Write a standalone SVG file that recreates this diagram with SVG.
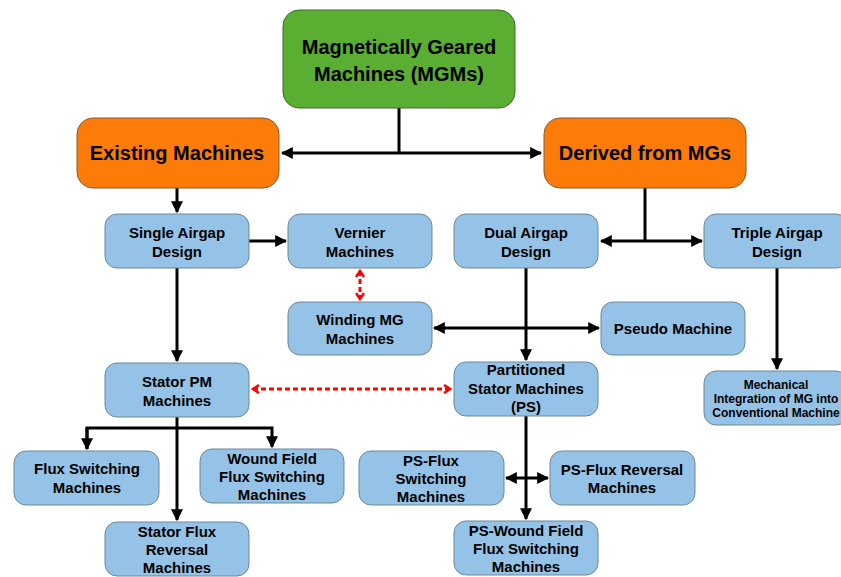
<svg xmlns="http://www.w3.org/2000/svg" width="841" height="577" viewBox="0 0 841 577">
<defs>
<style>
.b{fill:#95c3e7;stroke:#6f8796;stroke-width:1}
.o{fill:#fc7b09;stroke:#8a5a2a;stroke-width:1}
.g{fill:#5aae31;stroke:#3f6b2a;stroke-width:1}
text{font-family:"Liberation Sans",Arial,sans-serif;font-weight:bold;fill:#000;text-anchor:middle}
.t1{font-size:20px}
.t2{font-size:15px}
.t3{font-size:12px}
.c{fill:none;stroke:#000;stroke-width:3}
.r{fill:none;stroke:#ff0000;stroke-width:3;stroke-dasharray:5 3}
</style>
<marker id="a" viewBox="0 0 10 10" refX="9" refY="5" markerWidth="12" markerHeight="12" markerUnits="userSpaceOnUse" orient="auto-start-reverse">
<path d="M0 0 L10 5 L0 10 Z" fill="#000"/>
</marker>
<marker id="rv" viewBox="0 0 10 10" refX="8" refY="5" markerWidth="10" markerHeight="10" markerUnits="userSpaceOnUse" orient="auto-start-reverse">
<path d="M2 1 L8 5 L2 9" fill="none" stroke="#ff0000" stroke-width="2.5"/>
</marker>
</defs>
<rect width="841" height="577" fill="#fff"/>

<g id="connectors">
<path class="c" d="M399 108 V153"/>
<path class="c" d="M282 153 H541" marker-start="url(#a)" marker-end="url(#a)"/>
<path class="c" d="M177 188 V212" marker-end="url(#a)"/>
<path class="c" d="M645 188 V241"/>
<path class="c" d="M601 241 H702" marker-start="url(#a)" marker-end="url(#a)"/>
<path class="c" d="M249 241 H286" marker-end="url(#a)"/>
<path class="c" d="M434 328 H599" marker-start="url(#a)" marker-end="url(#a)"/>
<path class="c" d="M526 268 V360" marker-end="url(#a)"/>
<path class="c" d="M777 268 V369" marker-end="url(#a)"/>
<path class="c" d="M177 268 V361" marker-end="url(#a)"/>
<path class="c" d="M177 417 V520" marker-end="url(#a)"/>
<path class="c" d="M87 449 V428 H272 V447" marker-end="url(#a)"/>
<path class="c" d="M87 428 V449" marker-end="url(#a)"/>
<path class="c" d="M526 416 V519" marker-end="url(#a)"/>
<path class="c" d="M506 478 H548" marker-start="url(#a)" marker-end="url(#a)"/>
<path class="r" d="M360 271 V299" marker-start="url(#rv)" marker-end="url(#rv)"/>
<path class="r" d="M253 389 H450" marker-start="url(#rv)" marker-end="url(#rv)"/>
</g>

<g id="mgm"><rect class="g" x="283" y="10" width="232" height="98" rx="16"/>
<text class="t1" x="399" y="54">Magnetically Geared</text><text class="t1" x="399" y="81">Machines (MGMs)</text></g>

<g id="existing"><rect class="o" x="77" y="118" width="202" height="70" rx="16"/>
<text class="t1" x="177" y="160">Existing Machines</text></g>

<g id="derived"><rect class="o" x="544" y="118" width="202" height="70" rx="16"/>
<text class="t1" x="645" y="160">Derived from MGs</text></g>

<g id="single"><rect class="b" x="105" y="214" width="144" height="54" rx="12"/>
<text class="t2" x="177" y="238">Single Airgap</text><text class="t2" x="177" y="257">Design</text></g>

<g id="vernier"><rect class="b" x="288" y="214" width="144" height="54" rx="12"/>
<text class="t2" x="360" y="238">Vernier</text><text class="t2" x="360" y="257">Machines</text></g>

<g id="dual"><rect class="b" x="454" y="214" width="144" height="54" rx="12"/>
<text class="t2" x="526" y="238">Dual Airgap</text><text class="t2" x="526" y="257">Design</text></g>

<g id="triple"><rect class="b" x="704" y="214" width="144" height="54" rx="12"/>
<text class="t2" x="777" y="238">Triple Airgap</text><text class="t2" x="777" y="257">Design</text></g>

<g id="winding"><rect class="b" x="288" y="302" width="144" height="53" rx="12"/>
<text class="t2" x="360" y="325">Winding MG</text><text class="t2" x="360" y="344">Machines</text></g>

<g id="pseudo"><rect class="b" x="601" y="302" width="144" height="53" rx="12"/>
<text class="t2" x="673" y="334">Pseudo Machine</text></g>

<g id="statorpm"><rect class="b" x="105" y="363" width="144" height="54" rx="12"/>
<text class="t2" x="177" y="387">Stator PM</text><text class="t2" x="177" y="406">Machines</text></g>

<g id="partitioned"><rect class="b" x="454" y="362" width="144" height="54" rx="12"/>
<text class="t2" x="526" y="375">Partitioned</text><text class="t2" x="526" y="394">Stator Machines</text><text class="t2" x="526" y="412">(PS)</text></g>

<g id="mechanical"><rect class="b" x="704" y="371" width="144" height="54" rx="12"/>
<text class="t3" x="776" y="389">Mechanical</text><text class="t3" x="776" y="403">Integration of MG into</text><text class="t3" x="776" y="417">Conventional Machine</text></g>

<g id="fluxsw"><rect class="b" x="14" y="451" width="145" height="54" rx="12"/>
<text class="t2" x="87" y="474">Flux Switching</text><text class="t2" x="87" y="493">Machines</text></g>

<g id="woundfield"><rect class="b" x="200" y="449" width="144" height="54" rx="12"/>
<text class="t2" x="272" y="464">Wound Field</text><text class="t2" x="272" y="482">Flux Switching</text><text class="t2" x="272" y="500">Machines</text></g>

<g id="statorflux"><rect class="b" x="105" y="522" width="144" height="54" rx="12"/>
<text class="t2" x="177" y="537">Stator Flux</text><text class="t2" x="177" y="555">Reversal</text><text class="t2" x="177" y="573">Machines</text></g>

<g id="psflux"><rect class="b" x="359" y="451" width="145" height="54" rx="12"/>
<text class="t2" x="431" y="466">PS-Flux</text><text class="t2" x="431" y="484">Switching</text><text class="t2" x="431" y="502">Machines</text></g>

<g id="psrev"><rect class="b" x="550" y="451" width="145" height="54" rx="12"/>
<text class="t2" x="622" y="475">PS-Flux Reversal</text><text class="t2" x="622" y="493">Machines</text></g>

<g id="pswound"><rect class="b" x="454" y="521" width="144" height="54" rx="12"/>
<text class="t2" x="526" y="536">PS-Wound Field</text><text class="t2" x="526" y="554">Flux Switching</text><text class="t2" x="526" y="572">Machines</text></g>
</svg>
